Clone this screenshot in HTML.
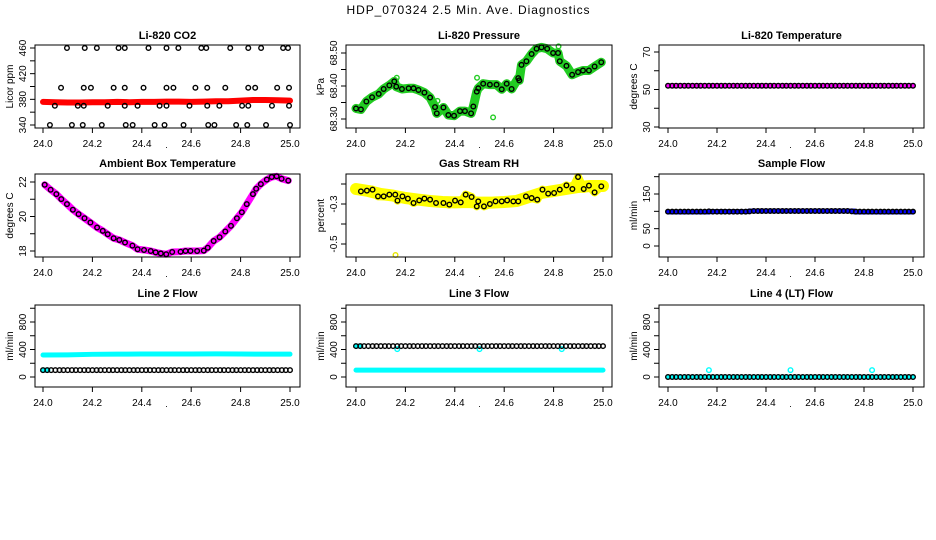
<!DOCTYPE html>
<html><head><meta charset="utf-8"><style>
html,body{margin:0;padding:0;background:#fff;}
svg{display:block;font-family:"Liberation Sans",Arial,sans-serif;}
</style></head><body>
<svg id="chart" width="936" height="540" viewBox="0 0 936 540" xmlns="http://www.w3.org/2000/svg">
<rect x="0" y="0" width="936" height="540" fill="#fff"/>
<text x="468" y="14" font-size="12" text-anchor="middle" fill="#000" textLength="243">HDP_070324  2.5 Min. Ave. Diagnostics</text>
</svg>
<script>
// ---------- data ----------
const xTicks = [24.0, 24.2, 24.4, 24.6, 24.8, 25.0];
const xTickLabels = ["24.0", "24.2", "24.4", "24.6", "24.8", "25.0"];

// CO2
const co2BandX = [24.0,24.05,24.1,24.15,24.2,24.25,24.3,24.35,24.4,24.45,24.5,24.55,24.6,24.65,24.7,24.75,24.8,24.85,24.9,24.95,25.0];
const co2BandY = [376,375.5,375,375,375.5,375.5,376,375.5,376,376,376.5,376.5,376,376.5,377,377,378,379,379,378.5,378];
const co2TopX = [24.097,24.169,24.218,24.306,24.331,24.427,24.5,24.548,24.641,24.661,24.758,24.831,24.883,24.972,24.992];
const co2MidX = [24.073,24.165,24.194,24.286,24.331,24.407,24.5,24.528,24.617,24.665,24.738,24.831,24.859,24.948,24.996];
const co2LowX = [24.048,24.141,24.165,24.262,24.331,24.383,24.472,24.5,24.593,24.665,24.714,24.806,24.831,24.927,24.996];
const co2BotX = [24.028,24.117,24.161,24.238,24.335,24.363,24.452,24.492,24.569,24.669,24.694,24.782,24.827,24.903,25.0];
const co2Levels = [460, 398, 370, 340];

// Pressure
const presX = [24.0,24.02,24.042,24.065,24.092,24.112,24.135,24.155,24.163,24.186,24.213,24.233,24.253,24.277,24.3,24.32,24.327,24.354,24.374,24.397,24.421,24.441,24.466,24.475,24.489,24.495,24.515,24.542,24.569,24.59,24.61,24.63,24.657,24.661,24.67,24.69,24.711,24.731,24.751,24.774,24.798,24.818,24.825,24.852,24.875,24.899,24.919,24.943,24.966,24.993];
const presY = [68.332,68.329,68.353,68.366,68.376,68.391,68.402,68.414,68.398,68.391,68.393,68.393,68.388,68.380,68.365,68.336,68.317,68.335,68.312,68.310,68.324,68.324,68.317,68.338,68.383,68.393,68.407,68.404,68.404,68.390,68.407,68.391,68.424,68.417,68.464,68.475,68.497,68.513,68.517,68.513,68.500,68.500,68.475,68.461,68.434,68.442,68.447,68.447,68.459,68.472];
const presOutX = [24.165,24.33,24.49,24.555,24.685,24.82];
const presOutY = [68.425,68.355,68.425,68.305,68.47,68.52];

// evenly sampled time stamps (2.5-min records)
const evenX = [24.0,24.017,24.033,24.05,24.067,24.083,24.1,24.117,24.133,24.15,24.167,24.183,24.2,24.217,24.233,24.25,24.267,24.283,24.3,24.317,24.333,24.35,24.367,24.383,24.4,24.417,24.433,24.45,24.467,24.483,24.5,24.517,24.533,24.55,24.567,24.583,24.6,24.617,24.633,24.65,24.667,24.683,24.7,24.717,24.733,24.75,24.767,24.783,24.8,24.817,24.833,24.85,24.867,24.883,24.9,24.917,24.933,24.95,24.967,24.983,25.0];

// Li-820 temperature
const tempY = [52,52,52,52,52,52,52,52,52,52,52,52,52,52,52,52,52,52,52,52,52,52,52,52,52,52,52,52,52,52,52,52,52,52,52,52,52,52,52,52,52,52,52,52,52,52,52,52,52,52,52,52,52,52,52,52,52,52,52,52,52];

// Ambient box temperature
const ambX = [24.007,24.031,24.054,24.074,24.097,24.121,24.144,24.168,24.192,24.219,24.242,24.262,24.286,24.309,24.332,24.362,24.383,24.409,24.436,24.456,24.477,24.499,24.523,24.557,24.577,24.597,24.624,24.651,24.667,24.691,24.715,24.738,24.761,24.785,24.805,24.825,24.85,24.863,24.882,24.906,24.926,24.946,24.966,24.993];
const ambY = [21.84,21.55,21.30,21.01,20.72,20.39,20.14,19.90,19.65,19.36,19.17,18.97,18.74,18.64,18.49,18.31,18.10,18.06,18.00,17.92,17.86,17.81,17.94,17.96,18.00,18.00,18.00,18.02,18.19,18.58,18.80,19.13,19.46,19.90,20.25,20.72,21.30,21.61,21.88,22.14,22.29,22.33,22.19,22.08];

// Gas stream RH
const rhX = [24.02,24.044,24.067,24.089,24.112,24.135,24.159,24.168,24.188,24.21,24.233,24.256,24.277,24.3,24.324,24.354,24.378,24.401,24.424,24.444,24.468,24.489,24.495,24.518,24.542,24.565,24.59,24.612,24.637,24.657,24.688,24.711,24.734,24.755,24.778,24.802,24.825,24.852,24.876,24.899,24.922,24.943,24.966,24.993];
const rhY = [-0.237,-0.233,-0.228,-0.262,-0.262,-0.253,-0.253,-0.283,-0.262,-0.273,-0.295,-0.282,-0.273,-0.278,-0.295,-0.295,-0.303,-0.283,-0.292,-0.253,-0.265,-0.312,-0.287,-0.312,-0.300,-0.287,-0.287,-0.282,-0.287,-0.287,-0.262,-0.270,-0.278,-0.228,-0.248,-0.245,-0.228,-0.207,-0.225,-0.165,-0.225,-0.208,-0.242,-0.212];
const rhBandX = [24.0,24.05,24.1,24.15,24.2,24.25,24.3,24.35,24.4,24.45,24.5,24.55,24.6,24.65,24.7,24.75,24.8,24.85,24.9,24.95,25.0];
const rhBandY = [-0.225,-0.235,-0.25,-0.258,-0.27,-0.278,-0.285,-0.29,-0.292,-0.29,-0.293,-0.293,-0.29,-0.285,-0.265,-0.245,-0.235,-0.225,-0.215,-0.21,-0.21];
const rhOutX = [24.16];
const rhOutY = [-0.555];

// Sample flow
const sfBandX = [24.0,24.17,24.17,24.33,24.33,24.76,24.76,25.0];
const sfBandY = [98,98,99,99,101,101,98,98];
const sfY = [99,99,99,99,99,99,99,99,99,99,100,99,99,99,99,99,99,99,99,99,100,101,101,101,101,101,101,101,101,101,101,101,101,101,101,101,101,101,101,101,101,101,101,101,101,100,99,99,99,99,99,99,99,99,99,99,99,99,99,99,99];

// Line 2 flow
const l2BandX = [24.0,24.1,24.2,24.3,24.4,24.5,24.6,24.7,24.8,24.9,25.0];
const l2BandY = [320,322,330,332,334,335,335,336,334,333,332];
const l2Y = [100,100,100,100,100,100,100,100,100,100,100,100,100,100,100,100,100,100,100,100,100,100,100,100,100,100,100,100,100,100,100,100,100,100,100,100,100,100,100,100,100,100,100,100,100,100,100,100,100,100,100,100,100,100,100,100,100,100,100,100,100];

// Line 3 flow
const l3BandX = [24.0,25.0];
const l3BandY = [100,100];
const l3Y = [450,450,450,450,450,450,450,450,450,450,450,450,450,450,450,450,450,450,450,450,450,450,450,450,450,450,450,450,450,450,450,450,450,450,450,450,450,450,450,450,450,450,450,450,450,450,450,450,450,450,450,450,450,450,450,450,450,450,450,450,450];
const l3OutX = [24.167,24.5,24.833];
const l3OutY = [405,405,405];

// Line 4 flow
const l4Y = [0,0,0,0,0,0,0,0,0,0,0,0,0,0,0,0,0,0,0,0,0,0,0,0,0,0,0,0,0,0,0,0,0,0,0,0,0,0,0,0,0,0,0,0,0,0,0,0,0,0,0,0,0,0,0,0,0,0,0,0,0];
const l4OutX = [24.167,24.5,24.833];
const l4OutY = [100,100,100];

// ---------- layout ----------
const NS = "http://www.w3.org/2000/svg";
const svg = document.getElementById("chart");
const COLS = [{l:35,r:300,x0:43,x1:290},{l:346,r:612,x0:356,x1:603},{l:659,r:924,x0:668,x1:913}];
const ROWS = [{t:45,b:128,ty:39},{t:174,b:257,ty:167},{t:305,b:387,ty:297}];

function el(tag, parent) { const e = document.createElementNS(NS, tag); parent.appendChild(e); return e; }

function makePanel(c, r, title, ylab, v0, p0, v1, p1, yticks, ylabels, name) {
  const C = COLS[c], R = ROWS[r];
  const g = el("g", svg);
  
  
  const sx = v => C.x0 + (v - 24) * (C.x1 - C.x0);
  const sy = v => p0 + (v - v0) * (p1 - p0) / (v1 - v0);
  const plot = el("g", g);
  
  
  const box = el("rect", g);
  
  
  box.setAttribute("x", C.l); box.setAttribute("y", R.t);
  box.setAttribute("width", C.r - C.l); box.setAttribute("height", R.b - R.t);
  box.setAttribute("fill", "none"); box.setAttribute("stroke", "#000"); box.setAttribute("stroke-width", "1");
  const t = el("text", g);
  
  
  t.setAttribute("x", (C.l + C.r) / 2); t.setAttribute("y", R.ty);
  t.setAttribute("text-anchor", "middle"); t.setAttribute("font-size", "11"); t.setAttribute("font-weight", "bold");
  t.textContent = title;
  const xa = el("g", g);
  
  
  xTicks.forEach((v, i) => {
    const tk = el("line", xa);
    
    
    tk.setAttribute("x1", sx(v)); tk.setAttribute("x2", sx(v));
    tk.setAttribute("y1", R.b); tk.setAttribute("y2", R.b + 5); tk.setAttribute("stroke", "#000");
    const tl = el("text", xa);
    
    
    tl.setAttribute("x", sx(v)); tl.setAttribute("y", R.b + 19);
    tl.setAttribute("text-anchor", "middle"); tl.setAttribute("font-size", "10");
    tl.textContent = xTickLabels[i];
  });
  const dot = el("text", xa);
  
  
  dot.setAttribute("x", (C.x0 + C.x1) / 2); dot.setAttribute("y", R.b + 20);
  dot.setAttribute("font-size", "9"); dot.setAttribute("text-anchor", "middle");
  dot.textContent = ".";
  const ya = el("g", g);
  
  
  yticks.forEach(v => {
    const tk = el("line", ya);
    
    
    tk.setAttribute("x1", C.l - 5); tk.setAttribute("x2", C.l);
    tk.setAttribute("y1", sy(v)); tk.setAttribute("y2", sy(v)); tk.setAttribute("stroke", "#000");
  });
  ylabels.forEach(lb => {
    const tl = el("text", ya);
    
    
    const yy = sy(parseFloat(lb)), xx = C.l - 9;
    tl.setAttribute("x", xx); tl.setAttribute("y", yy);
    tl.setAttribute("transform", "rotate(-90 " + xx + " " + yy + ")");
    tl.setAttribute("text-anchor", "middle"); tl.setAttribute("font-size", "10");
    tl.textContent = lb;
  });
  const yt = el("text", ya);
  
  
  const ytx = C.l - 22, yty = (R.t + R.b) / 2;
  yt.setAttribute("x", ytx); yt.setAttribute("y", yty);
  yt.setAttribute("transform", "rotate(-90 " + ytx + " " + yty + ")");
  yt.setAttribute("text-anchor", "middle"); yt.setAttribute("font-size", "10");
  yt.textContent = ylab;
  return {plot, sx, sy};
}

function band(P, xs, ys, color, w, name) {
  const pl = el("polyline", P.plot);
  
  
  pl.setAttribute("points", xs.map((x, i) => P.sx(x) + "," + P.sy(ys[i])).join(" "));
  pl.setAttribute("fill", "none"); pl.setAttribute("stroke", color);
  pl.setAttribute("stroke-width", w); pl.setAttribute("stroke-linejoin", "round"); pl.setAttribute("stroke-linecap", "round");
}
function points(P, xs, ys, color, name) {
  xs.forEach((x, i) => {
    const c = el("circle", P.plot);
    
    
    c.setAttribute("cx", P.sx(x)); c.setAttribute("cy", P.sy(ys[i])); c.setAttribute("r", "2.3");
    c.setAttribute("fill", "none"); c.setAttribute("stroke", color); c.setAttribute("stroke-width", "1.4");
  });
}

let P = makePanel(0, 0, "Li-820 CO2", "Licor ppm", 340, 125, 460, 48, [340,360,380,400,420,440,460], ["340","380","420","460"], "co2");
band(P, co2BandX, co2BandY, "#ff0000", 6, "co2-red-band");
[co2TopX, co2MidX, co2LowX, co2BotX].forEach((xs, k) => points(P, xs, xs.map(() => co2Levels[k]), "#000", "co2-point"));

P = makePanel(1, 0, "Li-820 Pressure", "kPa", 68.30, 119, 68.50, 53, [68.30,68.35,68.40,68.45,68.50], ["68.30","68.40","68.50"], "pressure");
band(P, presX, presY, "#22cc22", 9, "pressure-green-band");
points(P, presOutX, presOutY, "#22cc22", "pressure-green-point");
points(P, presX, presY, "#000", "pressure-point");

P = makePanel(2, 0, "Li-820 Temperature", "degrees C", 30, 127, 70, 52, [30,40,50,60,70], ["30","50","70"], "li820-temperature");
band(P, [24.0, 25.0], [52, 52], "#ff00ff", 5, "temperature-magenta-band");
points(P, evenX, tempY, "#000", "temperature-point");

P = makePanel(0, 1, "Ambient Box Temperature", "degrees C", 18, 251, 22, 182, [18,19,20,21,22], ["18","20","22"], "ambient-temperature");
band(P, ambX, ambY, "#ff00ff", 7, "ambient-magenta-band");
points(P, ambX, ambY, "#000", "ambient-point");

P = makePanel(1, 1, "Gas Stream RH", "percent", -0.5, 244, -0.3, 204, [-0.5,-0.4,-0.3,-0.2], ["-0.5","-0.3"], "gas-stream-rh");
band(P, rhBandX, rhBandY, "#ffff00", 12, "rh-yellow-band");
band(P, rhX, rhY, "#ffff00", 8, "rh-yellow-band-detail");
points(P, rhOutX, rhOutY, "#e6e600", "rh-yellow-point");
points(P, rhX, rhY, "#000", "rh-point");

P = makePanel(2, 1, "Sample Flow", "ml/min", 0, 246, 150, 194, [0,50,100,150,200], ["0","50","150"], "sample-flow");
band(P, sfBandX, sfBandY, "#0000ff", 5, "sample-flow-blue-band");
points(P, evenX, sfY, "#000", "sample-flow-point");

P = makePanel(0, 2, "Line 2 Flow", "ml/min", 0, 377, 800, 322, [0,200,400,600,800,1000], ["0","400","800"], "line2-flow");
band(P, l2BandX, l2BandY, "#00ffff", 5, "line2-cyan-band");
band(P, [24.0, 24.02], [100, 100], "#00ffff", 5, "line2-cyan-low");
points(P, evenX, l2Y, "#000", "line2-point");

P = makePanel(1, 2, "Line 3 Flow", "ml/min", 0, 377, 800, 322, [0,200,400,600,800,1000], ["0","400","800"], "line3-flow");
band(P, l3BandX, l3BandY, "#00ffff", 5, "line3-cyan-band");
band(P, [24.0, 24.02], [450, 450], "#00ffff", 5, "line3-cyan-high");
points(P, l3OutX, l3OutY, "#00ffff", "line3-cyan-point");
points(P, evenX, l3Y, "#000", "line3-point");

P = makePanel(2, 2, "Line 4 (LT) Flow", "ml/min", 0, 377, 800, 322, [0,200,400,600,800,1000], ["0","400","800"], "line4-flow");
band(P, [24.0, 25.0], [0, 0], "#00ffff", 4, "line4-cyan-band");
points(P, evenX, l4Y, "#000", "line4-point");
points(P, l4OutX, l4OutY, "#00ffff", "line4-cyan-point");
</script>
</body></html>
